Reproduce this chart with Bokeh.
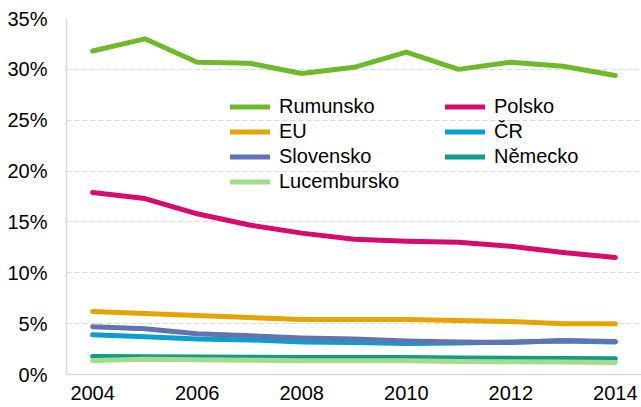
from bokeh.plotting import figure
from bokeh.models import Legend, LegendItem, FixedTicker, Range1d
from bokeh.embed import file_html
from bokeh.resources import INLINE

years = list(range(2004, 2015))
rumunsko = [31.8, 33.0, 30.7, 30.6, 29.6, 30.2, 31.7, 30.0, 30.7, 30.3, 29.4]
polsko = [17.9, 17.3, 15.8, 14.7, 13.9, 13.3, 13.1, 13.0, 12.6, 12.0, 11.5]
eu = [6.2, 6.0, 5.8, 5.6, 5.4, 5.4, 5.4, 5.3, 5.2, 5.0, 5.0]
cr = [3.9, 3.7, 3.5, 3.4, 3.2, 3.15, 3.05, 3.1, 3.2, 3.3, 3.2]
slovensko = [4.7, 4.5, 4.0, 3.8, 3.6, 3.5, 3.3, 3.2, 3.15, 3.35, 3.25]
nemecko = [1.77, 1.74, 1.72, 1.7, 1.68, 1.68, 1.66, 1.62, 1.6, 1.57, 1.55]
lucembursko = [1.37, 1.5, 1.45, 1.4, 1.35, 1.35, 1.35, 1.28, 1.25, 1.22, 1.18]

names = ["Rumunsko", "Polsko", "EU", "ČR", "Slovensko", "Německo", "Lucembursko"]
series = [rumunsko, polsko, eu, cr, slovensko, nemecko, lucembursko]
colors = ["#6fba2c", "#d60c6c", "#e6a400", "#0aa0cb", "#6173b0", "#109b8a", "#a6da8c"]

yticks = [0, 5, 10, 15, 20, 25, 30, 35]
ytick_labels = ["0%", "5%", "10%", "15%", "20%", "25%", "30%", "35%"]
xticks = [2004, 2006, 2008, 2010, 2012, 2014]
xtick_labels = ["2004", "2006", "2008", "2010", "2012", "2014"]

FONT = "Liberation Sans"
GRID = "#d9d9d9"

p = figure(width=641, height=407, output_backend="svg", toolbar_location=None,
           x_range=Range1d(2003.5, 2014.5), y_range=Range1d(0, 35),
           min_border_left=66, min_border_top=18, min_border_right=0, min_border_bottom=33)
p.outline_line_color = None
p.xgrid.grid_line_color = None
p.ygrid.grid_line_color = GRID
p.ygrid.grid_line_dash = "5 3"
p.ygrid.grid_line_width = 1

p.yaxis.ticker = FixedTicker(ticks=yticks)
p.yaxis.major_label_overrides = {t: l for t, l in zip(yticks, ytick_labels)}
p.xaxis.ticker = FixedTicker(ticks=xticks)
p.xaxis.major_label_overrides = {t: l for t, l in zip(xticks, xtick_labels)}
for ax in (p.xaxis, p.yaxis):
    ax.axis_line_color = GRID
    ax.axis_line_width = 1.5
    ax.major_tick_line_color = None
    ax.minor_tick_line_color = None
    ax.major_tick_out = 0
    ax.major_tick_in = 0
    ax.minor_tick_out = 0
    ax.major_label_text_font = FONT
    ax.major_label_text_font_size = "20px"
    ax.major_label_text_color = "black"
p.yaxis.major_label_standoff = 19
p.xaxis.major_label_standoff = 11

renderers = []
for name, vals, col in zip(names, series, colors):
    r = p.line(years, vals, line_color=col, line_width=5, line_cap="round", line_join="round")
    renderers.append((name, r))

def make_legend(items, loc):
    lg = Legend(items=[LegendItem(label=n, renderers=[r]) for n, r in items], location=loc,
                orientation="vertical", padding=0, margin=0, spacing=0,
                glyph_width=40, glyph_height=25, label_height=25, label_standoff=9,
                label_text_font=FONT, label_text_font_size="20px", label_text_color="black",
                border_line_alpha=0, background_fill_alpha=0)
    return lg

left_items = [renderers[i] for i in (0, 2, 4, 6)]
right_items = [renderers[i] for i in (1, 3, 5)]
p.add_layout(make_legend(left_items, (164, 180)))
p.add_layout(make_legend(right_items, (379, 205)))

open("out.html", "w").write(file_html(p, INLINE))
